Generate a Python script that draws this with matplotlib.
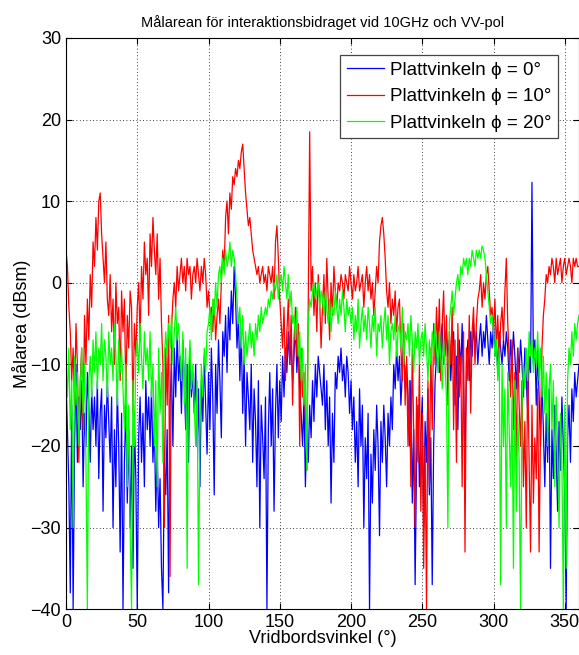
import numpy as np
import matplotlib
matplotlib.use("Agg")
import matplotlib.pyplot as plt

plt.rcParams['font.family'] = ['Liberation Sans', 'DejaVu Sans']

angles = list(range(0, 361))

phi0 = [
    -12, -18, -25, -38, -15, -40, -20, -10, -22, -14,
    -18, -12, -25, -16, -20, -11, -15, -22, -13, -18,
    -14, -20, -12, -24, -16, -13, -28, -15, -19, -12,
    -17, -22, -14, -30, -18, -25, -13, -20, -33, -16,
    -40, -22, -15, -27, -18, -30, -20, -35, -17, -24,
    -40, -19, -14, -22, -16, -25, -12, -18, -14, -20,
    -13, -22, -17, -28, -20, -30, -24, -35, -40, -22,
    -26, -18, -38, -15, -10, -20, -8, -14, -6, -12,
    -9, -16, -7, -12, -18, -10, -22, -8, -14, -11,
    -16, -10, -20, -13, -25, -12, -17, -9, -15, -21,
    -11, -18, -8, -14, -26, -10, -16, -7, -12, -19,
    -6, -9, -4, -11, -3, -7, -1, -5, 2, -2,
    -8, -4, -12, -6, -16, -9, -20, -11, -14, -18,
    -10, -22, -13, -17, -25, -12, -30, -15, -19, -24,
    -14, -40, -18, -11, -20, -13, -28, -16, -10, -19,
    -12, -17, -9, -14, -8, -11, -6, -10, -7, -12,
    -9, -5, -11, -7, -13, -16, -20, -14, -25, -18,
    -22, -15, -19, -12, -17, -10, -14, -9, -11, -13,
    -15, -10, -18, -12, -20, -14, -27, -16, -22, -11,
    -13, -9, -11, -8, -12, -10, -14, -9, -11, -16,
    -12, -18, -14, -22, -17, -25, -13, -20, -15, -30,
    -19, -24, -16, -40, -21, -27, -18, -23, -15, -20,
    -31, -17, -22, -15, -19, -25, -16, -20, -14, -18,
    -10, -13, -8, -12, -9, -15, -11, -7, -13, -10,
    -14, -20, -12, -27, -18, -37, -22, -15, -25, -19,
    -14, -30, -17, -22, -13, -26, -19, -37, -20, -12,
    -9, -6, -11, -7, -5, -10, -8, -6, -9, -7,
    -12, -8, -6, -15, -9, -18, -7, -11, -5, -13,
    -22, -10, -7, -12, -6, -9, -5, -8, -6, -10,
    -7, -5, -9, -6, -8, -4, -7, -10, -6, -8,
    -5, -9, -7, -11, -6, -8, -10, -7, -9, -6,
    -8, -12, -7, -10, -6, -9, -13, -8, -11, -7,
    -10, -14, -8, -12, -16, -9, -11, 12.3, -10, -7,
    -15, -8, -14, -20, -12, -18, -25, -16, -22, -13,
    -35, -18, -24, -15, -21, -28, -17, -23, -14, -20,
    -26, -40, -19, -15, -22, -13, -17, -11, -14, -12,
    -10,
]

phi10 = [
    4, 2, -3, -6, -12, -8, -15, -5, -10, -22,
    -12, -8, -18, -4, -10, -2, -7, 1, -3, 5,
    2, 8, 4, 10, 11, 6, 3, 0, 5, -2,
    -4, 1, -6, -2, -10, 0, -5, -3, -12, -1,
    -6, -2, -14, -4, -8, -1, -3, -16, -5, -9,
    -3, 0, -7, 2, -2, 5, 1, 3, -4, 6,
    2, 8, 4, 1, 6, -2, 3, -5, -10, -30,
    -8, -15, -4, -36, -6, -2, 0, -3, 2, -1,
    1, 3, 0, 2, -1, 3, 1, 2, -2, 1,
    2, 0, 3, 1, -1, 2, 0, 3, 1, -3,
    -1, -4, -3, -6, -2, -7, -4, -2, -5, 0,
    4, 2, 8, 10, 6, 11, 9, 13, 12, 14,
    13, 15, 14, 16, 17, 14, 11, 9, 7, 8,
    6, 4, 3, 2, 1, 2, 0, 1, 2, 0,
    1, -1, 2, 1, 0, 2, -2, 5, 7, 3,
    -2, -5, -8, -3, -12, -6, -2, -10, -4, -15,
    -7, -3, -9, -5, -20, -8, -14, -11, -16, -23,
    -3, 18.5, -1, 2, -4, 0, -6, 1, -2, -8,
    -3, 1, -5, 3, -2, -7, 0, -4, 2, -1,
    -3, 0, -1, 1, 0, -2, 1, 0, -1, 2,
    0, -2, 1, -1, 0, 2, -1, 0, 1, -3,
    0, 2, -1, 1, -2, 0, -4, -1, 2, 0,
    5, 7, 8, 6, 3, -1, -3, 0, -5, -2,
    -4, -1, -6, -3, -2, -8, -12, -5, -15, -9,
    -20, -12, -25, -8, -18, -30, -14, -22, -10, -28,
    -16, -35, -20, -40, -12, -25, -8, -18, -5, -10,
    -3, -8, -2, -12, -5, -1, -9, -4, -15, -6,
    -10, -3, -18, -7, -22, -5, -14, -9, -25, -6,
    -33, -8, -12, -4, -16, -6, -3, -10, -5, -2,
    -1, 1, -3, 0, -2, 1, 2, -1, -4, -3,
    -6, -2, -8, -4, -10, -5, -3, -7, -1, 3,
    -5, -9, -14, -7, -18, -11, -22, -8, -15, -20,
    -12, -25, -17, -30, -10, -22, -33, -15, -27, -19,
    -24, -13, -33, -18, -8, -4, -2, 1, 0, 2,
    1, 3, 2, 0, 3, 1, 2, 3, 0, 2,
    3, 1, 2, 3, 2, 0, 3, 2, 3, 2,
    2,
]

phi20 = [
    -10, -14, -8, -18, -12, -30, -9, -15, -11, -20,
    -13, -8, -16, -10, -22, -40, -12, -9, -14, -7,
    -11, -6, -13, -8, -10, -5, -12, -7, -9, -14,
    -6, -10, -8, -12, -5, -9, -15, -7, -11, -8,
    -13, -18, -10, -25, -15, -30, -40, -12, -20, -9,
    -7, -11, -5, -9, -13, -6, -10, -8, -12, -6,
    -14, -10, -20, -12, -25, -8, -16, -11, -22, -9,
    -6, -9, -5, -8, -4, -10, -6, -3, -7, -5,
    -9, -12, -6, -15, -8, -35, -11, -7, -13, -10,
    -15, -20, -12, -37, -18, -10, -14, -8, -11, -6,
    -5, -3, -7, -2, -4, 0, -3, 1, 2, 0,
    3, 1, 4, 2, 3, 5, 2, 4, 3, 1,
    -2, -5, -3, -8, -4, -10, -6, -9, -7, -5,
    -8, -6, -9, -5, -7, -4, -6, -3, -5, -4,
    -3, -4, -2, -3, -1, -2, 0, -1, 1, -2,
    0, 1, -1, 2, 0, -2, 1, -3, -1, -5,
    -4, -7, -3, -9, -6, -12, -8, -15, -10, -23,
    -5, -2, -3, -1, 0, -2, -1, 0, -3, -1,
    -2, -4, -1, -3, -5, -2, -6, -3, -4, -1,
    -3, -5, -2, -4, -1, -3, -6, -2, -4, -3,
    -5, -3, -7, -4, -6, -2, -8, -5, -3, -6,
    -4, -7, -3, -5, -8, -4, -6, -3, -9, -5,
    -6, -4, -8, -5, -3, -7, -4, -10, -6, -5,
    -7, -4, -9, -6, -5, -8, -3, -10, -6, -7,
    -5, -9, -4, -7, -11, -6, -8, -5, -10, -7,
    -6, -9, -5, -8, -12, -7, -10, -6, -9, -5,
    -8, -11, -6, -9, -13, -7, -10, -14, -30, -5,
    -3, -1, -4, -2, 0, 1, -1, 2, 1, 3,
    2, 3, 1, 3, 2, 4, 3, 2, 4, 3,
    4, 3, 4.5, 4, 3, 1, -1, -3, -5, -4,
    -6, -9, -7, -12, -8, -37, -10, -20, -13, -30,
    -11, -18, -25, -14, -35, -12, -28, -16, -22, -40,
    -15, -10, -13, -8, -12, -6, -9, -7, -11, -8,
    -10, -6, -12, -8, -14, -9, -16, -11, -20, -13,
    -10, -18, -12, -25, -14, -20, -30, -16, -22, -40,
    -15, -35, -12, -8, -10, -6, -9, -5, -7, -5,
    -4,
]

labels = ['Plattvinkeln \u03d5 = 0\u00b0', 'Plattvinkeln \u03d5 = 10\u00b0', 'Plattvinkeln \u03d5 = 20\u00b0']
colors = ['#0000ff', '#ff0000', '#00ff00']

fig = plt.figure(figsize=(5.79, 6.55), dpi=100)
ax = fig.add_axes([0.114, 0.070, 0.886, 0.872])

for y, c, lab in zip([phi0, phi10, phi20], colors, labels):
    ax.plot(angles, y, color=c, lw=0.9, label=lab)

ax.set_xlim(0, 360)
ax.set_ylim(-40, 30)
ax.set_xticks(range(0, 351, 50))
ax.set_yticks(range(-40, 31, 10))
ax.grid(True, color='black', linestyle=(0, (1, 3)), linewidth=0.6)
ax.tick_params(direction='in', top=True, right=True, labelsize=13, length=4)
ax.set_xlabel('Vridbordsvinkel (\u00b0)', fontsize=13, labelpad=-1)
ax.set_ylabel('M\u00e5larea (dBsm)', fontsize=13, labelpad=0)
ax.set_title('M\u00e5larean f\u00f6r interaktionsbidraget vid 10GHz och VV-pol', fontsize=10.5, pad=8)
leg = ax.legend(loc='upper right', fontsize=13.5, fancybox=False, framealpha=1,
                edgecolor='#444444', handlelength=2.0, handletextpad=0.3,
                borderpad=0.35, labelspacing=0.5, borderaxespad=0,
                bbox_to_anchor=(0.959, 0.970))
leg.get_frame().set_linewidth(0.9)

fig.savefig('out.png', dpi=100)
